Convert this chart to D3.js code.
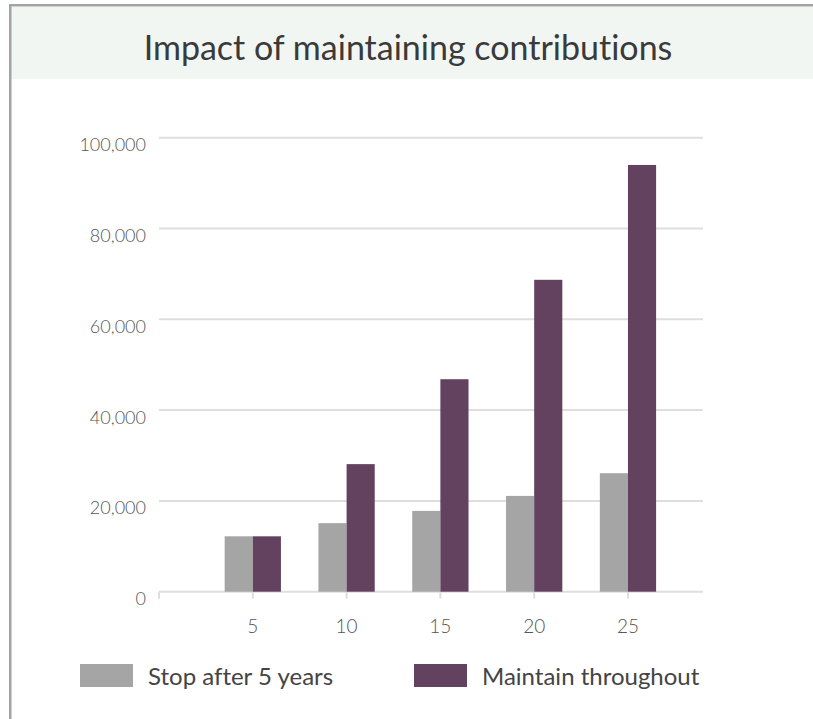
<!DOCTYPE html>
<html>
<head>
<meta charset="utf-8">
<script src="https://cdn.jsdelivr.net/npm/d3@7"></script>
<style>
  html, body { margin: 0; padding: 0; background: #ffffff; }
  svg { display: block; }
  text { font-family: Lato, "Noto Sans", "DejaVu Sans", sans-serif; font-variant-ligatures: none; }
</style>
</head>
<body>
<svg id="chart" width="813" height="719"></svg>
<script>
// Contribution horizon (years)
const years = [5, 10, 15, 20, 25];
// Pot value when contributions stop after five years
const stopAfter5 = [12200, 15100, 17800, 21100, 26100];
// Pot value when contributions continue for the whole term
const maintainThroughout = [12200, 28100, 46800, 68700, 94000];
// Y axis ticks
const yTicks = [0, 20000, 40000, 60000, 80000, 100000];
const seriesNames = ["Stop after 5 years", "Maintain throughout"];
const seriesColors = ["#a5a5a5", "#634260"];

const svg = d3.select("#chart");
const W = 813, H = 719;

// Card frame and title banner
svg.append("rect").attr("x", 11).attr("y", 7).attr("width", W - 11).attr("height", 72)
  .attr("fill", "#f2f6f3");
svg.append("rect").attr("x", 9).attr("y", 4).attr("width", W - 9).attr("height", 2.5)
  .attr("fill", "#a3a3a3");
svg.append("rect").attr("x", 9).attr("y", 4).attr("width", 2.5).attr("height", H - 4)
  .attr("fill", "#a3a3a3");

svg.append("text")
  .attr("x", 408).attr("y", 60)
  .attr("text-anchor", "middle")
  .attr("font-size", 34)
  .attr("font-weight", 400)
  .attr("fill", "#3a3a3a")
  .text("Impact of maintaining contributions");

// Scales
const x = d3.scaleLinear().domain([0, 29]).range([159, 703]);
const y = d3.scaleLinear().domain([0, 100000]).range([591.7, 137.7]);
const barW = x(1.5) - x(0);

// Horizontal gridlines
svg.append("g").selectAll("line").data(yTicks).join("line")
  .attr("x1", x(0)).attr("x2", x(29))
  .attr("y1", d => y(d)).attr("y2", d => y(d))
  .attr("stroke", "#dedede").attr("stroke-width", 2);

// Y labels
const fmt = d3.format(",");
svg.append("g").selectAll("text").data(yTicks).join("text")
  .attr("x", 146).attr("y", d => y(d) + 6.5)
  .attr("text-anchor", "end")
  .attr("dominant-baseline", "central")
  .attr("font-size", 18)
  .attr("font-weight", 300)
  .attr("fill", "#555")
  .text(d => fmt(d));

// X axis tick marks (axis start + each category)
svg.append("g").selectAll("line").data([0, ...years]).join("line")
  .attr("x1", d => x(d)).attr("x2", d => x(d))
  .attr("y1", y(0)).attr("y2", y(0) + 7)
  .attr("stroke", "#dedede").attr("stroke-width", 2);

// X labels
svg.append("g").selectAll("text").data(years).join("text")
  .attr("x", d => x(d)).attr("y", 625)
  .attr("text-anchor", "middle")
  .attr("dominant-baseline", "central")
  .attr("font-size", 19)
  .attr("font-weight", 300)
  .attr("fill", "#555")
  .text(d => d);

// Bars
const series = [stopAfter5, maintainThroughout];
series.forEach((vals, si) => {
  svg.append("g").selectAll("rect").data(years).join("rect")
    .attr("x", (d) => x(d) - barW + si * barW)
    .attr("width", barW)
    .attr("y", (d, i) => y(vals[i]))
    .attr("height", (d, i) => y(0) - y(vals[i]))
    .attr("fill", seriesColors[si]);
});

// Legend
const legendX = [80, 414];
seriesNames.forEach((name, i) => {
  svg.append("rect").attr("x", legendX[i]).attr("y", 664)
    .attr("width", 53).attr("height", 23).attr("fill", seriesColors[i]);
  svg.append("text").attr("x", legendX[i] + 68).attr("y", 685)
    .attr("font-size", 24).attr("font-weight", 400)
    .attr("fill", "#444")
    .text(name);
});
</script>
</body>
</html>
